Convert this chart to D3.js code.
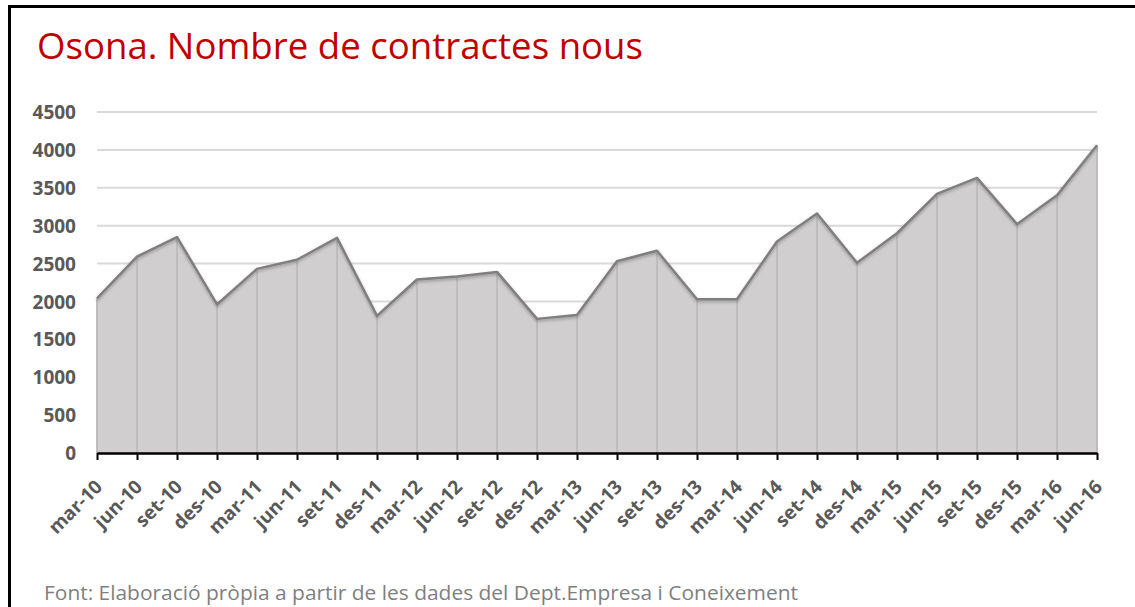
<!DOCTYPE html>
<html>
<head>
<meta charset="utf-8">
<script src="https://cdn.jsdelivr.net/npm/d3@7"></script>
<style>
html,body{margin:0;padding:0;background:#fff;}
svg{display:block;}
</style>
</head>
<body>
<svg id="chart" width="1135" height="607"></svg>
<script>
const categories = ["mar-10","jun-10","set-10","des-10","mar-11","jun-11","set-11","des-11","mar-12","jun-12","set-12","des-12","mar-13","jun-13","set-13","des-13","mar-14","jun-14","set-14","des-14","mar-15","jun-15","set-15","des-15","mar-16","jun-16"];
const values = [2040,2590,2850,1960,2430,2550,2840,1810,2290,2330,2390,1770,1820,2530,2670,2030,2030,2790,3160,2510,2900,3420,3630,3020,3400,4060];
const yTicks = [0,500,1000,1500,2000,2500,3000,3500,4000,4500];
const titleText = "Osona. Nombre de contractes nous";
const sourceText = "Font: Elaboració pròpia a partir de les dades del Dept.Empresa i Coneixement";

const data = categories.map((c,i)=>({cat:c, v:values[i]}));
const svg = d3.select("#chart");

const x = d3.scalePoint().domain(categories).range([97,1097]);
const y = d3.scaleLinear().domain([0,4500]).range([453,112]);

// frame
svg.append("rect").attr("x",9.5).attr("y",6.5).attr("width",1200).attr("height",700)
  .attr("fill","none").attr("stroke","#000").attr("stroke-width",3);

// title
svg.append("text").attr("x",37).attr("y",59)
  .attr("font-family","'Open Sans', sans-serif").attr("font-size",36)
  .attr("fill","#C00000").attr("textLength",606).attr("lengthAdjust","spacingAndGlyphs")
  .text(titleText);

// gridlines
svg.append("g").selectAll("line").data(yTicks.filter(d=>d>0)).join("line")
  .attr("x1",x.range()[0]).attr("x2",x.range()[1])
  .attr("y1",d=>y(d)).attr("y2",d=>y(d))
  .attr("stroke","#d9d9d9").attr("stroke-width",2);

// shadow filter
const defs = svg.append("defs");
const f = defs.append("filter").attr("id","sh").attr("x","-5%").attr("y","-5%").attr("width","110%").attr("height","120%");
f.append("feDropShadow").attr("dx",0).attr("dy",1.5).attr("stdDeviation",1.5).attr("flood-color","#000").attr("flood-opacity",0.3);

// area
const area = d3.area().x(d=>x(d.cat)).y0(y(0)).y1(d=>y(d.v));
svg.append("path").datum(data).attr("d",area).attr("fill","#d0cece");

// drop lines
svg.append("g").selectAll("line").data(data).join("line")
  .attr("x1",d=>x(d.cat)).attr("x2",d=>x(d.cat))
  .attr("y1",d=>y(d.v)).attr("y2",y(0))
  .attr("stroke","#bdbdbd").attr("stroke-width",2);

// top line
const line = d3.line().x(d=>x(d.cat)).y(d=>y(d.v));
svg.append("path").datum(data).attr("d",line).attr("fill","none")
  .attr("stroke","#7f7f7f").attr("stroke-width",2.5).attr("stroke-linejoin","round")
  .attr("filter","url(#sh)");

// y axis labels
const yAxis = d3.axisLeft(y).tickValues(yTicks).tickFormat(d3.format("d")).tickSize(0).tickPadding(0);
const gy = svg.append("g").attr("transform","translate(76,0)").call(yAxis);
gy.select(".domain").remove();
gy.selectAll("text").attr("font-family","'Open Sans', sans-serif").attr("font-size",19)
  .attr("font-weight","bold").attr("fill","#595959").attr("dy","0.35em");

// x axis
const xAxis = d3.axisBottom(x).tickSize(7).tickSizeOuter(0);
const gx = svg.append("g").attr("transform",`translate(0,${y(0)})`).call(xAxis);
gx.select(".domain").attr("stroke","#000").attr("stroke-width",2.5);
gx.selectAll(".tick line").attr("stroke","#000").attr("stroke-width",2);
gx.selectAll("text")
  .attr("font-family","'Open Sans', sans-serif").attr("font-size",19).attr("font-weight","bold")
  .attr("fill","#595959").attr("text-anchor","end")
  .attr("x",0).attr("y",0).attr("dy",0)
  .attr("transform","translate(6,35) rotate(-45)");

// source
svg.append("text").attr("x",44).attr("y",600)
  .attr("font-family","'Open Sans', sans-serif").attr("font-size",20)
  .attr("fill","#7f7f7f").attr("textLength",754).attr("lengthAdjust","spacingAndGlyphs")
  .text(sourceText);
</script>
</body>
</html>
